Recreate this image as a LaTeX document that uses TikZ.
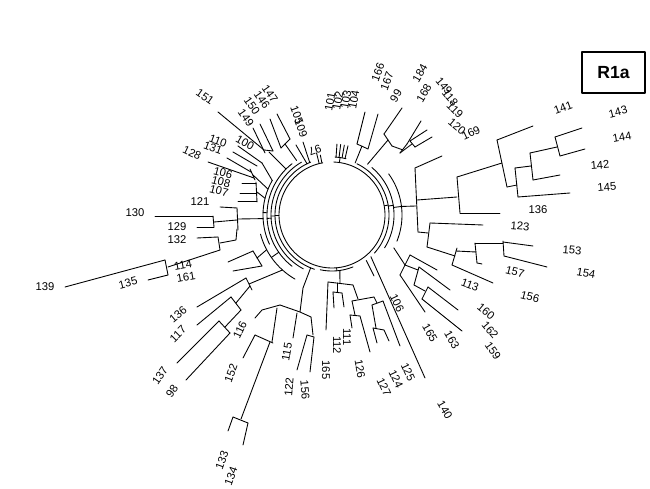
\documentclass[tikz,border=0pt]{standalone}
\usepackage{fontspec}
\setmainfont{Liberation Sans}
\newcommand\pp[2]{({332+(#2)*cos(#1)},{215-(#2)*sin(#1)})}
\newcommand\ringarc[3]{\draw plot[domain=#1:#2,samples=90] ({332+(#3)*cos(\x)},{215-(#3)*sin(\x)});}
\begin{document}
\begin{tikzpicture}[x=0.03cm,y=-0.03cm, line width=0.75pt, line join=round, line cap=round,
  lab/.style={font=\fontsize{9.6}{10}\selectfont, inner sep=0pt}]
\useasboundingbox (0,0) rectangle (650,489);
% ---------------- ring ----------------
\ringarc{100}{448}{53}
\ringarc{-42}{64}{57}
\draw \pp{10}{53}--\pp{10}{57};
\ringarc{-32}{50}{62}
\draw \pp{9}{57}--\pp{9}{62};
\ringarc{-22}{36}{70}
\draw \pp{7}{62}--\pp{7}{70};
\ringarc{112}{252}{57}
\draw \pp{180}{53}--\pp{180}{57};
\ringarc{120}{242}{61}
\draw \pp{181}{57}--\pp{181}{61};
\ringarc{128}{232}{65}
\draw \pp{183}{61}--\pp{183}{65};
\ringarc{150}{205}{69}
\draw \pp{178}{65}--\pp{178}{69};
\ringarc{195}{240}{74}
\draw \pp{215}{65}--\pp{215}{74};
\ringarc{258}{292}{56}
\draw \pp{275}{53}--\pp{275}{56};
% ---------------- top ticks ----------------
\ringarc{76}{87}{58}
\draw \pp{82}{53}--\pp{82}{58};
\foreach \a in {77,80,83,86} \draw \pp{\a}{58}--\pp{\a}{71};
% ---------------- 166/167 ----------------
\draw \pp{66}{57} -- (362,146);
\draw (357,144)--(368,149);
\draw (357,144)--(365,112);
\draw (368,149)--(378,114);
% ---------------- 99 ... 169 ----------------
\draw \pp{55}{62} -- (388,140);
\draw (384,134)--(392,146);
\draw (384,134)--(402,108);
\draw (392,146)--(403,150);
\draw (400,153)--(407,144);
\draw (407,144)--(421,121);
\draw (400,153)--(412,144);
\draw (410,141)--(415,147);
\draw (410,141)--(427,130);
\draw (415,147)--(432,137);
% ---------------- right big clade ----------------
\draw \pp{7}{70} -- (416,206);
\draw (415,168)--(418,232);
\draw (415,168)--(442,156);
\draw (417,200)--(457,197);
\draw (457,177)--(460,213);
\draw (460,213)--(500,213);
\draw (457,177)--(502,163);
\draw (497,140)--(507,187);
\draw (497,140)--(533,126);
\draw (507,187)--(517,185);
\draw (515,168)--(518,197);
\draw (518,197)--(570,193);
\draw (515,168)--(531,166);
\draw (530,153)--(533,180);
\draw (533,180)--(560,175);
\draw (530,153)--(557,147);
\draw (555,137)--(560,156);
\draw (555,137)--(582,128);
\draw (560,156)--(585,149);
% ---------------- 123 clade ----------------
\draw (418,232)--(428,233);
\draw (430,223)--(427,247);
\draw (430,223)--(483,225);
\draw (427,247)--(455,256);
\draw (457,248)--(452,265);
\draw (456,251)--(476,252);
\draw (475,243)--(477,263);
\draw (475,243)--(503,243);
\draw (503,241)--(504,256);
\draw (503,242)--(533,246);
\draw (504,256)--(547,267);
\draw (477,263)--(482,264);
\draw (452,265)--(493,283);
% ---------------- 113/160/162/159 ----------------
\draw \pp{-28}{70} -- (405,265);
\draw (410,255)--(400,275);
\draw (410,255)--(437,270);
\draw (400,275)--(425,312);
\draw (405,265)--(418,270);
\draw (419,267)--(414,285);
\draw (419,267)--(450,290);
\draw (414,285)--(425,291);
\draw (428,287)--(422,299);
\draw (428,287)--(458,310);
\draw (422,299)--(462,331);
% ---------------- 106 / 140 ----------------
\draw \pp{-53}{57} -- (374,276);
\draw \pp{-47}{57} -- (425,378);
% ---------------- bottom clade ----------------
\draw \pp{-82}{56} -- (340,283);
\draw (328,282)--(353,285);
\draw (328,282)--(326,330);
\draw (337,283)--(337,292);
\draw (333,292)--(342,293);
\draw (333,292)--(334,308);
\draw (342,293)--(344,307);
\draw (353,285)--(358,299);
\draw (352,301)--(374,297);
\draw (352,301)--(355,315);
\draw (350,315)--(360,316);
\draw (350,315)--(352,328);
\draw (360,316)--(370,352);
\draw (374,297)--(377,303);
\draw (372,305)--(383,301);
\draw (372,305)--(376,328);
\draw (373,328)--(384,330);
\draw (373,328)--(377,343);
\draw (384,330)--(389,341);
\draw (383,301)--(400,346);
% ---------------- lower-left clade ----------------
\draw \pp{248}{57} -- (303,288) -- (300,312);
\draw (280,305)--(300,312)--(311,317);
\draw (311,317)--(313,335);
\draw (307,335)--(314,337);
\draw (307,335)--(297,370);
\draw (314,337)--(310,372);
\draw (297,313)--(293,338);
\draw (280,305)--(262,310)--(255,318);
\draw (277,308)--(272,342);
\draw (255,335)--(273,343);
\draw (255,335)--(243,358);
\draw (270,342)--(241,419);
\draw (233,417)--(248,423);
\draw (233,417)--(228,431);
\draw (248,423)--(243,445);
% ---------------- 136/117/137/98 ----------------
\draw \pp{228}{74} -- (249,284);
\draw (246,278)--(252,290);
\draw (246,278)--(197,307);
\draw (250,286)--(236,303);
\draw (231,297)--(241,310);
\draw (231,297)--(197,325);
\draw (241,310)--(225,327);
\draw (219,321)--(230,333);
\draw (219,321)--(177,363);
\draw (230,333)--(186,380);
% ---------------- 114/161 ----------------
\draw (253,251)--(262,266);
\draw (228,262)--(253,251);
\draw (233,271)--(262,266);
\draw (257,258)--\pp{208}{74};
% ---------------- 130 ... 139 ----------------
\draw (155,216)--(213,216);
\draw (213,216)--(214,227);
\draw (197,227)--(214,227);
\draw (214,222)--(237,220);
\draw (237,208)--(238,230);
\draw (220,207)--(237,208);
\draw (238,219)--\pp{183}{69};
\draw (237,229)--(236,240)--(220,243);
\draw (218,237)--(220,250);
\draw (197,238)--(218,237);
\draw (220,250)--(168,267);
\draw (165,260)--(168,275);
\draw (165,260)--(65,287);
\draw (168,275)--(148,280);
% ---------------- 106/108/107 ----------------
\draw (256,182)--(257,202);
\draw (242,183)--(256,183);
\draw (240,193)--(257,193);
\draw (238,201)--(257,201);
\draw (257,192)--\pp{166}{69};
% ---------------- 110/131/128/100 ----------------
\draw (250,169)--(255,180);
\draw (227,158)--(251,172);
\draw (208,162)--(254,178);
\draw (233,152)--(257,166);
\draw (253,175)--\pp{158}{69};
\draw (238,146)--(262,163);
\draw (262,163)--\pp{150}{69};
% ---------------- 151/147/146/150/149 ----------------
\draw (218,112)--(264,150);
\draw (253,128)--(265,153);
\draw (260,124)--(273,151);
\draw (264,150)--(273,151);
\draw (270,119)--(281,148);
\draw (277,114)--(290,139);
\draw (281,148)--(290,139);
\draw (269,152)--\pp{135}{65};
\draw (285,144)--\pp{123}{65};
% ---------------- near top-left ----------------
\draw \pp{113}{57} -- (303,142);
\draw \pp{116}{57} -- (296,145);
\draw \pp{104}{53} -- \pp{104}{64};
\draw \pp{101}{53} -- \pp{101}{61};
% ---------------- labels ----------------
\foreach \t/\px/\py/\r in {
 101/330/102/80, 102/338/101/80, 103/346/100/80, 104/354/100/80,
 166/378/72/70, 167/387/81/70, 99/396/96/60, 184/420/73/60, 168/424/93/60,
 149/444/86/-50, 118/450/98/-50, 119/455/110/-45, 120/457/127/-40, 169/471/133/25,
 141/563/108/20, 143/618/112/15, 144/622/137/10, 142/600/165/5, 145/607/187/5,
 136/538/210/0, 123/520/226/-5, 153/572/250/-5, 154/586/273/-10, 157/515/272/-15,
 156/530/297/-15, 113/470/285/-20, 160/486/312/-40, 162/490/330/-50, 159/493/351/-55,
 163/452/340/-60, 165/430/333/-60, 106/397/303/-65, 140/445/410/-60,
 125/408/372/-65, 124/396/379/-65, 127/384/387/-65, 126/360/369/-80,
 111/347/337/-90, 112/337/345/-90, 165/326/370/-90, 156/305/390/-85, 122/289/387/85,
 115/287/352/80, 152/231/373/70, 133/222/460/70, 134/231/476/70, 116/240/330/65,
 98/172/391/55, 137/160/376/55, 117/178/334/45, 136/178/315/40,
 161/186/277/10, 114/183/265/10, 139/45/287/0, 135/128/283/15, 132/177/240/0,
 129/177/227/0, 130/135/213/0, 121/200/202/0, 107/219/191/-15, 108/221/182/-15,
 106/223/173/-15, 128/192/153/-25, 131/213/148/-20, 110/218/141/-20, 100/245/143/-30,
 151/205/97/-35, 149/246/118/-55, 150/252/106/-55, 146/262/100/-55, 147/270/94/-55,
 105/297/115/-70, 109/301/128/-70, 97/315/150/200}
 \node[lab, rotate=\r] at (\px,\py) {\t};
% ---------------- R1a box ----------------
\node[draw, line width=1.1pt, minimum width=1.89cm, minimum height=1.23cm, inner sep=0pt,
  font=\bfseries\fontsize{15}{16}\selectfont] (r1a) at (613.5,72.5) {R1a};
\end{tikzpicture}
\end{document}
